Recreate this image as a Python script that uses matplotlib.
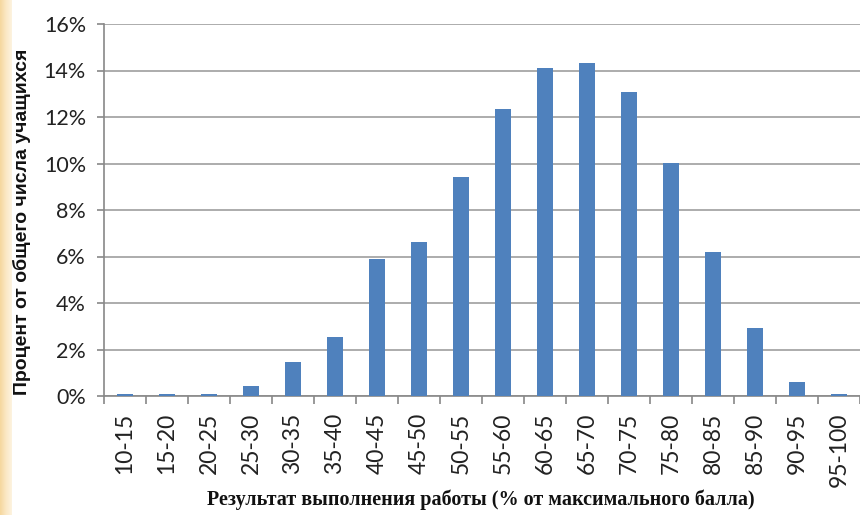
import matplotlib
matplotlib.use("Agg")
import matplotlib.pyplot as plt
import numpy as np
from matplotlib.ticker import FuncFormatter, FixedLocator
from matplotlib.colors import LinearSegmentedColormap

categories = ["10-15", "15-20", "20-25", "25-30", "30-35", "35-40", "40-45", "45-50",
              "50-55", "55-60", "60-65", "65-70", "70-75", "75-80", "80-85", "85-90",
              "90-95", "95-100"]
values = [0.1, 0.1, 0.1, 0.43, 1.45, 2.53, 5.88, 6.62, 9.42, 12.33, 14.1, 14.33,
          13.08, 10.02, 6.19, 2.92, 0.6, 0.1]
y_ticks = [0, 2, 4, 6, 8, 10, 12, 14, 16]

fig = plt.figure(figsize=(8.6, 5.15), dpi=100)
fig.patch.set_facecolor("white")

# beige left strip
strip = fig.add_axes([0, 0, 12 / 860, 1])
grad = np.linspace(0, 1, 50).reshape(1, -1)
cm = LinearSegmentedColormap.from_list("b", ["#f5d79e", "#fbe8c4", "#fdf3e0"])
strip.imshow(grad, aspect="auto", cmap=cm, extent=[0, 1, 0, 1])
strip.axis("off")

ax = fig.add_axes([104 / 860, 1 - 396 / 515, 1 - 104 / 860, (396 - 24) / 515])
x = np.arange(len(categories))
ax.bar(x, values, width=0.4, color="#4f81bd", zorder=3)

ax.set_xlim(-0.5, len(categories) - 0.5)
ax.set_ylim(0, 16)
ax.set_yticks(y_ticks)
ax.yaxis.set_major_formatter(FuncFormatter(lambda v, p: f"{int(v)}%"))
ax.grid(axis="y", color="#a6a6a6", linewidth=1.3, zorder=0)
ax.set_axisbelow(True)

for s in ["top", "right"]:
    ax.spines[s].set_visible(False)
ax.spines["left"].set_color("#888888")
ax.spines["left"].set_linewidth(1.2)
ax.spines["bottom"].set_color("#888888")
ax.spines["bottom"].set_linewidth(1.2)

ax.tick_params(axis="y", length=5, color="#888888", width=1.2, pad=8,
               labelsize=15.5, labelcolor="#222222")
ax.set_xticks(x)
ax.set_xticklabels(categories, rotation=90, fontsize=16.5, color="#222222",
                   fontfamily="Lato")
ax.tick_params(axis="x", which="major", length=0, pad=12)
ax.xaxis.set_minor_locator(FixedLocator(np.arange(-0.5, len(categories), 1.0)))
ax.tick_params(axis="x", which="minor", length=6, color="#888888", width=1.2)
for lbl in ax.get_yticklabels():
    lbl.set_fontfamily("Lato")

fig.text(22 / 860, 1 - 222 / 515, "Процент от общего числа учащихся", rotation=90,
         ha="center", va="center", fontsize=14, fontweight="bold",
         fontfamily="Liberation Sans", color="#111111")
fig.text(481 / 860, 1 - 500 / 515, "Результат выполнения работы (% от максимального балла)",
         ha="center", va="center", fontsize=14.5, fontweight="bold",
         fontfamily="Liberation Serif", color="#111111")

fig.savefig("out.png", dpi=100, facecolor="white")
